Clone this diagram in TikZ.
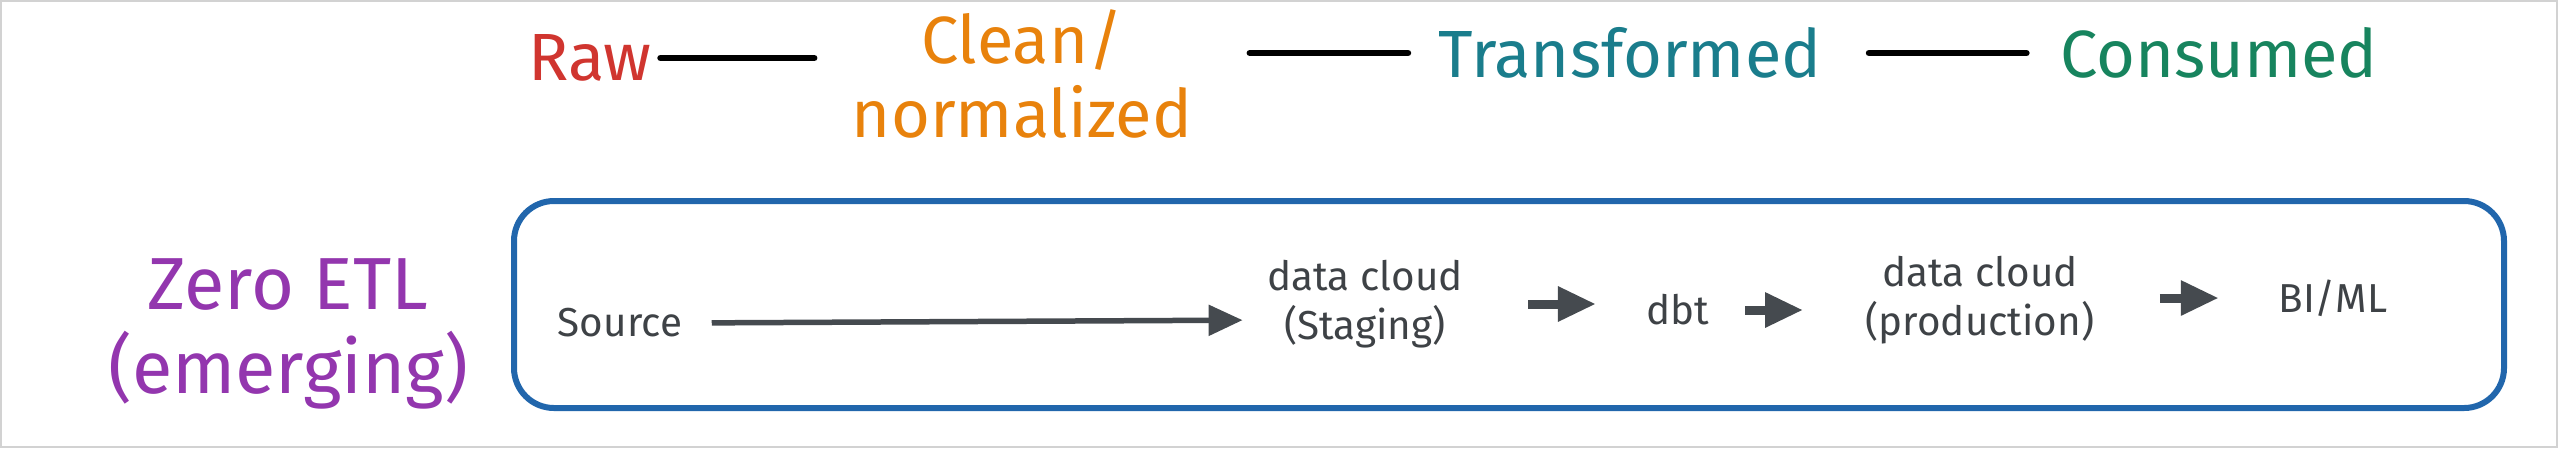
\documentclass[tikz,border=0pt]{standalone}
\usepackage{fontspec}
\setmainfont{Fira Sans}
\usetikzlibrary{arrows.meta}

\definecolor{rawred}{HTML}{D0352F}
\definecolor{cleanorange}{HTML}{E8820C}
\definecolor{transformedteal}{HTML}{1A7D8C}
\definecolor{consumedgreen}{HTML}{17845E}
\definecolor{zeropurple}{HTML}{9336AE}
\definecolor{laneblue}{HTML}{2166AC}
\definecolor{flowgray}{HTML}{454A4F}
\definecolor{textgray}{HTML}{3E4246}
\definecolor{framegray}{HTML}{D2D2D2}

\begin{document}
\begin{tikzpicture}[
	> = {Triangle[length = 0.34cm, width = 0.3cm]},
	stage/.style = {inner sep = 0, align = center, font = \fontsize{19}{21}\selectfont},
	item/.style = {inner sep = 0, align = center, text = textgray, font = \fontsize{11.5}{14}\selectfont},
	link/.style = {black, line width = 0.065cm, line cap = round},
	flow/.style = {flowgray, line width = 0.055cm, ->},
	hop/.style = {flowgray, line width = 0.09cm, -{Triangle[length = 0.38cm, width = 0.33cm]}}
]

	% Frame
	
	\useasboundingbox (0, 0) rectangle (25.6, -4.49);
	\draw [framegray, line width = 0.02cm] (0.01, -0.01) rectangle (25.57, -4.47);
	
	% Stages
	
	\node [stage, rawred] (raw) at (5.90, -0.58) {Raw};
	\node [stage, cleanorange] (clean) at (10.22, -0.74) {Clean/\\normalized};
	\node [stage, transformedteal] (transformed) at (16.30, -0.53) {Transformed};
	\node [stage, consumedgreen] (consumed) at (22.19, -0.53) {Consumed};
	
	\draw [link, shorten <= 0.08cm, shorten >= 0.37cm] (raw.east) -- (raw.east -| clean.west);
	\draw [link, shorten <= 0.57cm, shorten >= 0.30cm] (clean.east |- transformed.west) -- (transformed.west);
	\draw [link, shorten <= 0.47cm, shorten >= 0.33cm] (transformed.east) -- (consumed.west);
	
	% Lane
	
	\node [stage, zeropurple, font = \fontsize{21}{24}\selectfont] (zero) at (2.88, -3.34) {Zero ETL\\(emerging)};
	\draw [laneblue, line width = 0.06cm, rounded corners = 0.4cm] (5.14, -2.01) rectangle (25.04, -4.08);
	
	% Pipeline
	
	\node [item] (source) at (6.20, -3.23) {Source};
	\node [item] (staging) at (13.65, -3.04) {data cloud\\(Staging)};
	\node [item] (dbt) at (16.78, -3.10) {dbt};
	\node [item] (prod) at (19.80, -3.00) {data cloud\\(production)};
	\node [item] (biml) at (23.33, -2.98) {BI/ML};
	
	\draw [flow, shorten <= 0.29cm, shorten >= 0.24cm] (source.east) -- ([yshift = -0.16cm] staging.west);
	\draw [hop, shorten <= 0.65cm, shorten >= 0.50cm] (staging.east) -- (staging.east -| dbt.west);
	\draw [hop, shorten <= 0.35cm, shorten >= 0.62cm] (dbt.east) -- (dbt.east -| prod.west);
	\draw [hop, shorten <= 0.65cm, shorten >= 0.59cm] (biml.west -| prod.east) -- (biml.west);

\end{tikzpicture}
\end{document}
